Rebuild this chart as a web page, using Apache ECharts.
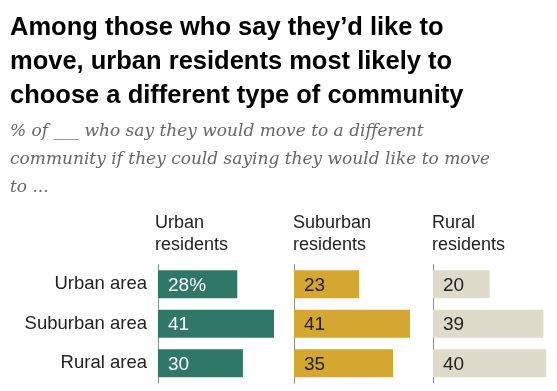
<!DOCTYPE html>
<html><head><meta charset="utf-8">
<script src="https://cdn.jsdelivr.net/npm/echarts@6/dist/echarts.min.js"></script>
<style>html,body{margin:0;padding:0;background:#fff}#c{width:557px;height:391px}</style>
</head><body><div id="c"></div>
<script>
const categories = ['Urban area', 'Suburban area', 'Rural area'];
const groups = ['Urban\nresidents', 'Suburban\nresidents', 'Rural\nresidents'];
const urbanResidents = [28, 41, 30];
const suburbanResidents = [23, 41, 35];
const ruralResidents = [20, 39, 40];
const seriesValues = [urbanResidents, suburbanResidents, ruralResidents];
const colors = ['#2f7767', '#d6a730', '#dedbca'];
const labelColors = ['#ffffff', '#222222', '#222222'];
const lefts = [158, 294, 433];
const xMax = 42, pxPerUnit = 2.83;

const chart = echarts.init(document.getElementById('c'));
const grids = [], xAxes = [], yAxes = [], series = [];
seriesValues.forEach((vals, i) => {
  grids.push({left: lefts[i], top: 264.5, width: xMax * pxPerUnit, height: 118.5, containLabel: false});
  xAxes.push({type: 'value', gridIndex: i, min: 0, max: xMax, show: false});
  yAxes.push({type: 'category', gridIndex: i, data: categories, inverse: true,
    axisLine: {show: true, lineStyle: {color: '#8a8a8a', width: 1}},
    axisTick: {show: false},
    axisLabel: {show: i === 0, color: '#222', fontSize: 18.5, fontFamily: 'Liberation Sans', margin: 11}});
  series.push({type: 'bar', xAxisIndex: i, yAxisIndex: i, data: vals, barWidth: 28,
    itemStyle: {color: colors[i]}, silent: true,
    label: {show: true, position: 'insideLeft', distance: 10, offset: [0, 1.5], color: labelColors[i], fontSize: 19, fontFamily: 'Liberation Sans',
      formatter: p => (i === 0 && p.dataIndex === 0) ? p.value + '%' : String(p.value)}});
});
const titles = [
  {text: 'Among those who say they\u2019d like to\nmove, urban residents most likely to\nchoose a different type of community',
   left: 5, top: 6, textStyle: {fontFamily: 'Liberation Sans', fontWeight: 'bold', fontSize: 25.5, lineHeight: 34, color: '#000'}},
  {text: '% of ___ who say they would move to a different\ncommunity if they could saying they would like to move\nto ...',
   left: 5, top: 113, textStyle: {fontFamily: 'DejaVu Serif', fontStyle: 'italic', fontWeight: 'normal', fontSize: 17, lineHeight: 28, color: '#666666'}}
];
const headerLefts = [150, 288, 427];
groups.forEach((g, i) => titles.push({text: g, left: headerLefts[i], top: 207,
  textStyle: {fontFamily: 'Liberation Sans', fontWeight: 'normal', fontSize: 18, lineHeight: 22, color: '#222'}}));
chart.setOption({animation: false, title: titles, grid: grids, xAxis: xAxes, yAxis: yAxes, series: series});
</script></body></html>
